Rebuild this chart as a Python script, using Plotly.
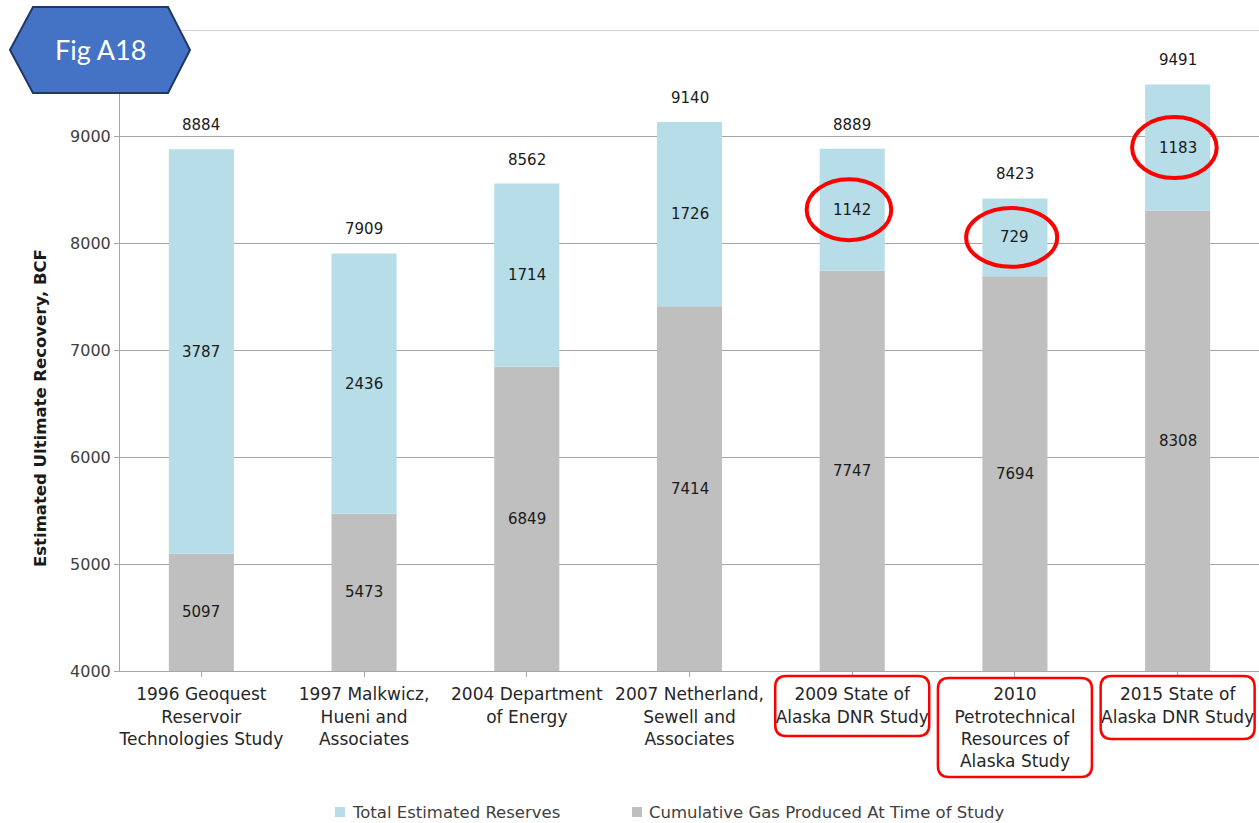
import plotly.graph_objects as go

# Study names (category axis), values in BCF
studies = [
    "1996 Geoquest<br>Reservoir<br>Technologies Study",
    "1997 Malkwicz,<br>Hueni and<br>Associates",
    "2004 Department<br>of Energy",
    "2007 Netherland,<br>Sewell and<br>Associates",
    "2009 State of<br>Alaska DNR Study",
    "2010<br>Petrotechnical<br>Resources of<br>Alaska Study",
    "2015 State of<br>Alaska DNR Study",
]
cumulative_produced = [5097, 5473, 6849, 7414, 7747, 7694, 8308]
estimated_reserves = [3787, 2436, 1714, 1726, 1142, 729, 1183]
total_eur = [8884, 7909, 8562, 9140, 8889, 8423, 9491]
highlighted = [4, 5, 6]

y_min, y_max = 4000, 10000
y_ticks = [4000, 5000, 6000, 7000, 8000, 9000]

W, H = 1259, 823
M_L, M_R, M_T, M_B = 120, 0, 30, 152
PW, PH = W - M_L - M_R, H - M_T - M_B

BLUE = "#B7DDE8"
GREY = "#BFBFBF"
GRID = "#A6A6A6"
FONT = "DejaVu Sans"


def px_x(x):
    return (x - M_L) / PW


def px_y(y):
    return (H - M_B - y) / PH


idx = list(range(len(studies)))

fig = go.Figure()
fig.add_trace(go.Bar(
    x=idx, y=cumulative_produced, name="Cumulative Gas Produced At Time of Study",
    marker=dict(color=GREY, line=dict(width=0)), width=0.4,
))
fig.add_trace(go.Bar(
    x=idx, y=estimated_reserves, base=cumulative_produced,
    name="Total Estimated Reserves",
    marker=dict(color=BLUE, line=dict(width=0)), width=0.4,
))

annotations = []
label_font = dict(family=FONT, size=15, color="#1a1a1a")
for i in idx:
    c, r, t = cumulative_produced[i], estimated_reserves[i], total_eur[i]
    annotations.append(dict(x=i, y=(y_min + c) / 2, xref="x", yref="y",
                            text=str(c), showarrow=False, font=label_font))
    annotations.append(dict(x=i, y=c + r / 2, xref="x", yref="y",
                            text=str(r), showarrow=False, font=label_font))
    annotations.append(dict(x=i, y=t, xref="x", yref="y", text=str(t),
                            showarrow=False, yanchor="bottom", yshift=13,
                            font=label_font))

# y-axis title
annotations.append(dict(x=px_x(40), y=px_y(408), xref="paper", yref="paper",
                        text="Estimated Ultimate Recovery, BCF", textangle=-90,
                        showarrow=False, xanchor="center", yanchor="middle",
                        font=dict(family=FONT, size=16.5, color="#1a1a1a",
                                  weight="bold")))

# top gridline at the upper end of the value axis (its label sits under the badge)
shapes = [dict(type="line", xref="paper", yref="y", x0=0, x1=1,
               y0=y_max, y1=y_max, line=dict(color=GRID, width=1), layer="below")]

# "Fig A18" badge
badge_pts = [(10, 50), (33, 7), (168, 7), (190, 50), (168, 93), (33, 93)]
badge_path = "M " + " L ".join(f"{px_x(x):.5f},{px_y(y):.5f}" for x, y in badge_pts) + " Z"
shapes.append(dict(type="path", path=badge_path, xref="paper", yref="paper",
                   fillcolor="#4472C4", line=dict(color="#1F3864", width=2),
                   layer="above"))
annotations.append(dict(x=px_x(100), y=px_y(49), xref="paper", yref="paper",
                        text="Fig A18", showarrow=False,
                        xanchor="center", yanchor="middle",
                        font=dict(family="Lato", size=27, color="white")))

# red ellipses around the reserve labels of the recent studies
ellipse_half = {4: (0.26, 285), 5: (0.28, 275), 6: (0.26, 285)}
for i in highlighted:
    cx = i - 0.02
    cy = cumulative_produced[i] + estimated_reserves[i] / 2
    hw, hh = ellipse_half[i]
    shapes.append(dict(type="circle", xref="x", yref="y",
                       x0=cx - hw, x1=cx + hw, y0=cy - hh, y1=cy + hh,
                       line=dict(color="#FF0000", width=4), layer="above"))

# rounded red boxes around the highlighted category labels
box_heights = {4: 60, 5: 99, 6: 63}
box_tops = {4: 676, 5: 678, 6: 676}
cat_w = PW / len(studies)
for i in highlighted:
    cx = M_L + cat_w * (i + 0.5)
    x0, x1 = cx - 77, cx + 77
    y0, y1 = box_tops[i], box_tops[i] + box_heights[i]
    r = 11
    X = px_x
    Y = px_y
    path = (
        f"M {X(x0 + r)},{Y(y0)} L {X(x1 - r)},{Y(y0)} Q {X(x1)},{Y(y0)} {X(x1)},{Y(y0 + r)} "
        f"L {X(x1)},{Y(y1 - r)} Q {X(x1)},{Y(y1)} {X(x1 - r)},{Y(y1)} "
        f"L {X(x0 + r)},{Y(y1)} Q {X(x0)},{Y(y1)} {X(x0)},{Y(y1 - r)} "
        f"L {X(x0)},{Y(y0 + r)} Q {X(x0)},{Y(y0)} {X(x0 + r)},{Y(y0)} Z"
    )
    shapes.append(dict(type="path", path=path, xref="paper", yref="paper",
                       line=dict(color="#FF0000", width=2.5), layer="above"))

# legend: small square swatch followed by the series name
legend_items = [(fig.data[1], 335, 350), (fig.data[0], 632, 647)]
for trace, sx, tx in legend_items:
    shapes.append(dict(type="rect", xref="paper", yref="paper",
                       x0=px_x(sx), x1=px_x(sx + 10), y0=px_y(807), y1=px_y(817),
                       fillcolor=trace.marker.color, line=dict(width=0)))
    annotations.append(dict(x=px_x(tx), y=px_y(812), xref="paper", yref="paper",
                            text=trace.name, showarrow=False,
                            xanchor="left", yanchor="middle",
                            font=dict(family=FONT, size=16.5, color="#404040")))

fig.update_layout(
    width=W, height=H,
    margin=dict(l=M_L, r=M_R, t=M_T, b=M_B, autoexpand=False),
    paper_bgcolor="white", plot_bgcolor="white",
    barmode="overlay", bargap=0.6,
    font=dict(family=FONT, size=16, color="#262626"),
    showlegend=False,
    xaxis=dict(
        tickmode="array", tickvals=idx, ticktext=studies,
        range=[-0.5, len(studies) - 0.5],
        showgrid=False, showline=True, linecolor=GRID, linewidth=1,
        ticks="outside", tickson="boundaries", ticklen=5, tickcolor=GRID,
        ticklabelstandoff=3,
        tickfont=dict(family=FONT, size=17, color="#262626"),
        zeroline=False,
    ),
    yaxis=dict(
        range=[y_min, y_max], tickmode="array", tickvals=y_ticks,
        showgrid=True, gridcolor=GRID, gridwidth=1,
        showline=True, linecolor=GRID, linewidth=1,
        ticks="outside", ticklen=5, tickcolor=GRID,
        tickfont=dict(family=FONT, size=16, color="#404040"),
        zeroline=False,
    ),
    annotations=annotations,
    shapes=shapes,
)

fig.write_html("out.html")
